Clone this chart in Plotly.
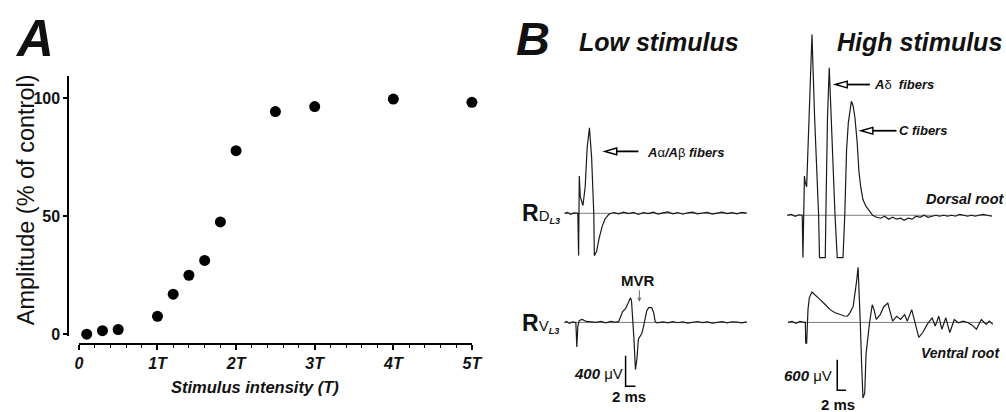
import plotly.graph_objects as go

# ---------------- Data ----------------
# Panel A: stimulus intensity (multiples of threshold T) vs amplitude (% of control)
stim_T = [0.1, 0.3, 0.5, 1.0, 1.2, 1.4, 1.6, 1.8, 2.0, 2.5, 3.0, 4.0, 5.0]
amp_pct = [0, 1.5, 2, 7.6, 17, 25, 31.3, 47.6, 77.8, 94.4, 96.5, 99.7, 98.3]
x_tick_vals = [0, 1, 2, 3, 4, 5]
x_tick_text = ["0", "1T", "2T", "3T", "4T", "5T"]
y_tick_vals = [0, 50, 100]

# Panel B traces: time (ms) and voltage (µV)
ld_t = [0, 0.6, 1.2, 2.0, 2.7, 2.86, 3.0, 3.2, 3.74, 4.2, 4.6, 5.06, 5.5, 5.94, 6.06,
        6.5, 7.0, 7.6, 8.2, 9.0, 10, 11, 12, 13, 14, 15, 16, 17, 18, 19, 20, 21, 22,
        23, 24, 25, 26, 27, 28, 29, 30, 31, 32, 33, 34, 35, 36, 37]
ld_v = [0, 13, -13, 6, 0, -555, 490, 219, 103, 348, 864, 1122, 735, 0, -555,
        -503, -335, -181, -77, -13, 10, -8, 15, -5, 12, -15, 8, -3, 14, -10, 5, 18, -6,
        10, -12, 7, 15, -8, 4, 12, -10, 6, 16, -5, 9, -7, 12, 3]

lv_t = [0, 0.4, 1.0, 1.6, 2.3, 2.5, 2.7, 3.0, 3.6, 4.4, 5.4, 6.4, 7.4, 8.4, 9.4, 10.4,
        11.0, 11.4, 11.8, 12.4, 12.8, 13.1, 13.4, 13.6, 13.9, 14.1, 14.4, 14.7, 15.0,
        15.4, 15.7, 16.0, 16.4, 16.7, 17.1, 17.7, 18.1, 18.4, 18.8, 20, 21, 22, 23, 24,
        25, 26, 27, 28, 29, 30, 31, 32, 33, 34, 35, 36, 37]
lv_v = [0, 13, -13, 6, 0, -323, -52, 26, 39, 13, 6, 0, 13, -6, 13, 0,
        13, 77, 142, 181, 232, 271, 323, 284, 0, -219, -619, -477, -219,
        -168, -142, -65, 77, 155, 194, 194, 129, 13, -6, 8, -6, 10, -4, 6,
        -10, 5, 12, -3, 7, -8, 4, 10, -6, 9, 3, -5, 8]

hd_t = [0, 0.9, 1.8, 2.7, 3.4, 3.56, 3.9, 4.1, 4.4, 4.7, 5.1, 5.6, 6.2, 6.9, 7.1,
        7.3, 8.6, 8.8, 9.1, 9.5, 10.0, 10.8, 11.3, 12.6, 13.0, 13.4, 13.8, 14.2, 14.5,
        14.9, 15.3, 15.8, 16.2, 16.6, 17.1, 17.8, 18.7, 19.3, 20.2, 21.1, 22.0, 22.9,
        23.8, 24.7, 25.6, 26.4, 27.3, 28.2, 29.1, 30.0, 30.9, 31.8, 32.7, 33.6, 34.4,
        35.3, 36.2, 37.1, 38.0, 38.9, 39.8, 40.7, 41.6, 42.4, 43.3, 44.2, 45.1, 46.2]
hd_v = [0, 19, -19, 10, 0, -832, 774, 639, 561, 1335, 2690, 3560, 1916, 368, 0,
        -832, -832, 368, 1916, 2903, 1722, 0, -832, -832, 0, 1277, 1819, 2109, 2245,
        2148, 1916, 1432, 851, 561, 310, 174, 58, 0, -39, -58, -19, -77,
        -39, -77, -58, -97, -58, -77, -19, -39, 0, -39, -19, 0, -19,
        0, -19, 0, -19, 19, 0, -19, 0, -19, 0, 19, 0, -19]

hv_t = [0.2, 1.1, 2.0, 2.9, 3.8, 4.1, 4.2, 4.4, 4.7, 5.0, 5.6, 6.4, 7.5, 8.4, 9.7,
        10.7, 11.9, 12.9, 13.6, 14.2, 14.9, 15.3, 15.7, 16.0, 16.3, 16.5, 16.8, 17.1,
        17.5, 17.8, 18.6, 19.2, 19.6, 20.1, 21.0, 21.8, 22.7, 23.3, 23.8, 24.7, 25.6,
        26.5, 27.1, 28.1, 28.8, 29.7, 30.6, 31.6, 32.7, 33.4, 34.2, 34.9, 35.8, 36.7,
        37.7, 38.6, 39.7, 40.8, 41.8, 42.7, 43.8, 44.9, 45.6, 46.4]
hv_v = [0, 19, -19, 19, 0, 0, -406, -406, 252, 484, 600, 542, 445, 368, 252,
        194, 155, 126, 122, 194, 315, 542, 832, 1084, 542, 0, -813, -1490,
        -1393, -619, 0, 348, 252, 58, 155, 310, 381, 194, 25, 122, 58,
        155, 25, 252, -6, -296, -199, -39, 91, -72, 122, -135, 91, -199,
        58, -6, 25, -6, -58, -135, 58, -39, 25, -39]

# scale bars: (t position, v position, 2 ms, µV)
scale_low = dict(t=12.4, v=-839, dt=2, dv=400)
scale_high = dict(t=11.3, v=-1335, dt=2, dv=600)

# ---------------- Layout helpers ----------------
W, H = 1006, 412
FONT = "Liberation Sans, Arial, sans-serif"
INK = "#111111"


def pxx(x):
    return x / W


def pxy(y):
    return 1 - y / H


def trace_axes(x0, x1, t0_px, px_per_ms, y_top, y_bot, base_px, px_per_uv):
    xdom = [pxx(x0), pxx(x1)]
    xr = [(x0 - t0_px) / px_per_ms, (x1 - t0_px) / px_per_ms]
    ydom = [pxy(y_bot), pxy(y_top)]
    yr = [(base_px - y_bot) / px_per_uv, (base_px - y_top) / px_per_uv]
    return xdom, xr, ydom, yr


low_px_ms, low_px_uv = 5.0, 31 / 400
high_px_ms, high_px_uv = 4.5, 31 / 600

ax_ld = trace_axes(560, 760, 569, low_px_ms, 100, 265, 217, low_px_uv)
ax_lv = trace_axes(560, 760, 569, low_px_ms, 265, 412, 328, low_px_uv)
ax_hd = trace_axes(785, 1006, 795, high_px_ms, 20, 265, 219, high_px_uv)
ax_hv = trace_axes(785, 1006, 795, high_px_ms, 265, 412, 328, high_px_uv)

fig = go.Figure()

# Panel A scatter
fig.add_trace(go.Scatter(x=stim_T, y=amp_pct, mode="markers",
                         marker=dict(size=11, color="black"),
                         cliponaxis=False, xaxis="x", yaxis="y"))

traces = [(ld_t, ld_v, "x2", "y2"), (lv_t, lv_v, "x3", "y3"),
          (hd_t, hd_v, "x4", "y4"), (hv_t, hv_v, "x5", "y5")]
for t, v, xa, ya in traces:
    # zero baseline
    fig.add_trace(go.Scatter(x=[min(t), max(t)], y=[0, 0], mode="lines",
                             line=dict(color="#444444", width=0.7),
                             cliponaxis=False, xaxis=xa, yaxis=ya))
    fig.add_trace(go.Scatter(x=t, y=v, mode="lines",
                             line=dict(color="#1a1a1a", width=1.2),
                             cliponaxis=False, xaxis=xa, yaxis=ya))

for sb, xa, ya in [(scale_low, "x3", "y3"), (scale_high, "x5", "y5")]:
    fig.add_trace(go.Scatter(
        x=[sb["t"], sb["t"], sb["t"] + sb["dt"]],
        y=[sb["v"] + sb["dv"], sb["v"], sb["v"]],
        mode="lines", line=dict(color="black", width=1.5),
        cliponaxis=False, xaxis=xa, yaxis=ya))

hidden = dict(visible=False, fixedrange=True)
layout_axes = {}
for i, ax in zip([2, 3, 4, 5], [ax_ld, ax_lv, ax_hd, ax_hv]):
    xdom, xr, ydom, yr = ax
    layout_axes[f"xaxis{i}"] = dict(domain=xdom, range=xr, anchor=f"y{i}", **hidden)
    layout_axes[f"yaxis{i}"] = dict(domain=ydom, range=yr, anchor=f"x{i}", **hidden)

fig.update_layout(
    width=W, height=H, margin=dict(l=0, r=0, t=0, b=0),
    paper_bgcolor="white", plot_bgcolor="rgba(0,0,0,0)", showlegend=False,
    font=dict(family=FONT, color=INK),
    xaxis=dict(domain=[pxx(76), pxx(475)], range=[0, 5], anchor="free",
               position=pxy(350), showline=True, linecolor="black", linewidth=1.5,
               showgrid=False, zeroline=False, tickvals=x_tick_vals,
               ticktext=[f"<b><i>{s}</i></b>" for s in x_tick_text],
               ticks="outside", ticklen=5, tickwidth=1.5, tickcolor="black",
               tickfont=dict(size=16, family=FONT, color=INK),
               minor=dict(dtick=0.2, tick0=0, ticks="outside", ticklen=3,
                          tickwidth=1.2, tickcolor="black"),
               fixedrange=True),
    yaxis=dict(domain=[pxy(342), pxy(77)], range=[-0.83, 109.6], anchor="free",
               position=pxx(65), showline=True, linecolor="black", linewidth=1.5,
               showgrid=False, zeroline=False, tickvals=y_tick_vals,
               ticktext=[f"<b>{v}</b>" for v in y_tick_vals],
               ticks="outside", ticklen=4, tickwidth=1.5, tickcolor="black",
               tickfont=dict(size=16, family=FONT, color=INK), fixedrange=True),
    **layout_axes,
)


def note(text, x, y, size, xanchor="center", yanchor="middle", angle=0, color=INK):
    fig.add_annotation(text=text, x=pxx(x), y=pxy(y), xref="paper", yref="paper",
                       showarrow=False, xanchor=xanchor, yanchor=yanchor,
                       textangle=angle, font=dict(size=size, family=FONT, color=color))


note("<b><i>A</i></b>", 31, 39, 51)
note("<b><i>B</i></b>", 537, 39, 47)
note("<b><i>Low stimulus</i></b>", 665, 43, 25)
note("<b><i>High stimulus</i></b>", 844, 43, 25, xanchor="left")
note("Amplitude (% of control)", 22, 203, 23.5, angle=-90)
note("<b><i>Stimulus intensity (T)</i></b>", 255, 394, 16.5)

note("<b><i>A</i></b>α<b><i>/A</i></b>β<b><i> fibers</i></b>", 651, 155, 13, xanchor="left")
note("<b><i>A</i></b>δ<b><i>  fibers</i></b>", 881, 86, 13, xanchor="left")
note("<b><i>C fibers</i></b>", 907, 133, 13, xanchor="left")
note("<b><i>Dorsal root</i></b>", 934, 202, 14.5, xanchor="left")
note("<b><i>Ventral root</i></b>", 929, 359, 14, xanchor="left")
note("<b>MVR</b>", 644, 285, 15)
note("<b><i>400</i></b> μV", 630, 380, 15, xanchor="right")
note("<b>2 ms</b>", 634, 403, 15)
note("<b><i>600</i></b> μV", 843, 382, 15, xanchor="right")
note("<b>2 ms</b>", 847, 411, 15)
note("<b>R</b><span style='font-size:15px'>D</span>"
     "<span style='font-size:13px'><sub><b><i>L3</i></b></sub></span>", 524, 217, 23,
     xanchor="left")
note("<b>R</b><span style='font-size:15px'>V</span>"
     "<span style='font-size:13px'><sub><b><i>L3</i></b></sub></span>", 524, 329, 23,
     xanchor="left")

# MVR small arrow
fig.add_annotation(x=pxx(645), y=pxy(307), xref="paper", yref="paper", text="",
                   showarrow=True, ax=0, ay=-13, arrowhead=2, arrowsize=0.8,
                   arrowwidth=1, arrowcolor="#666666")


# hollow-headed arrows pointing at peaks
def hollow_arrow(tip_x, y, head_len, tail_x):
    hw = 3.4
    path = (f"M {pxx(tip_x)},{pxy(y)} L {pxx(tip_x + head_len)},{pxy(y - hw)} "
            f"L {pxx(tip_x + head_len)},{pxy(y + hw)} Z")
    fig.add_shape(type="path", path=path, xref="paper", yref="paper",
                  line=dict(color="black", width=1.4), fillcolor="white")
    fig.add_shape(type="line", xref="paper", yref="paper",
                  x0=pxx(tip_x + head_len), x1=pxx(tail_x), y0=pxy(y), y1=pxy(y),
                  line=dict(color="black", width=1.8))


hollow_arrow(610, 154, 12, 644)
hollow_arrow(844, 86, 12, 879)
hollow_arrow(870, 133, 12, 906)

fig.write_html("out.html")
